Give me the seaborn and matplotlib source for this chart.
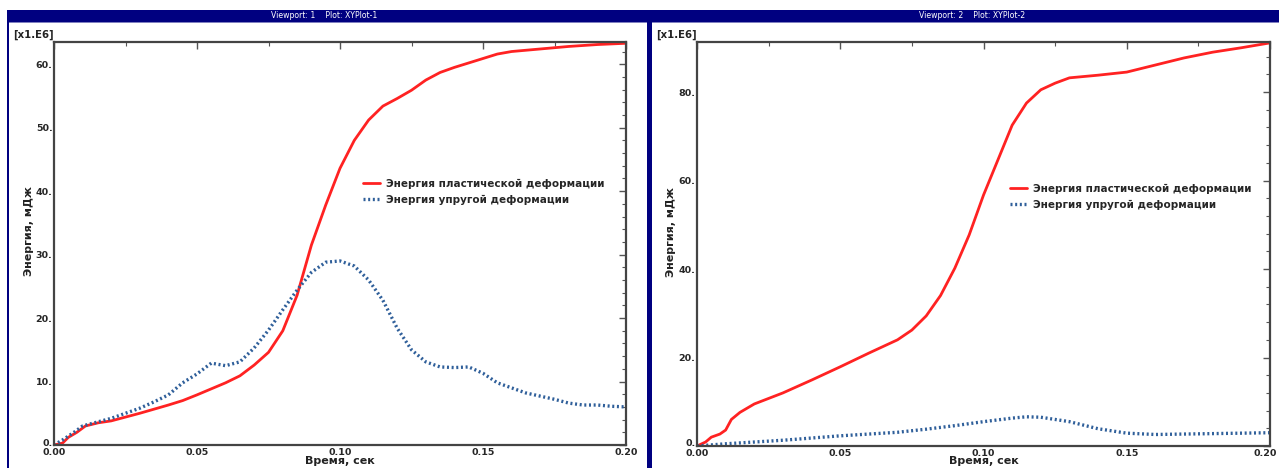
import numpy as np
import pandas as pd
import matplotlib
matplotlib.use("Agg")
import matplotlib.pyplot as plt
import seaborn as sns
from matplotlib.ticker import FuncFormatter, MultipleLocator, AutoMinorLocator
from matplotlib.patches import Rectangle
from matplotlib.transforms import ScaledTranslation

sns.set_theme(style="white")
plt.rcParams['font.family'] = ['DejaVu Sans']

# ---- data (left: Viewport 1) ----
t1_pl = [0, 0.003, 0.005, 0.008, 0.011, 0.0155, 0.02, 0.03, 0.04, 0.045, 0.05, 0.06, 0.065, 0.07, 0.075,
         0.08, 0.085, 0.09, 0.095, 0.10, 0.105, 0.11, 0.115, 0.12, 0.125, 0.13, 0.135, 0.14, 0.145,
         0.15, 0.155, 0.16, 0.17, 0.18, 0.19, 0.20]
e1_pl = [0, 0.3, 1.2, 2.0, 3.0, 3.5, 3.8, 5.0, 6.3, 7.0, 7.9, 9.8, 10.9, 12.6, 14.6,
         18.0, 23.6, 31.5, 37.8, 43.6, 48.0, 51.2, 53.4, 54.6, 55.9, 57.5, 58.7, 59.5, 60.2,
         60.9, 61.6, 62.0, 62.4, 62.8, 63.1, 63.3]
t1_el = [0, 0.003, 0.007, 0.01, 0.015, 0.02, 0.025, 0.03, 0.035, 0.04, 0.045, 0.05, 0.055, 0.06,
         0.065, 0.07, 0.075, 0.08, 0.085, 0.09, 0.095, 0.10, 0.105, 0.11, 0.115, 0.12, 0.125, 0.13,
         0.135, 0.14, 0.145, 0.15, 0.155, 0.16, 0.165, 0.17, 0.175, 0.18, 0.185, 0.19, 0.195, 0.20]
e1_el = [0, 0.8, 2.0, 3.0, 3.6, 4.2, 5.0, 5.8, 6.8, 7.9, 9.8, 11.2, 12.9, 12.5,
         13.1, 15.3, 18.1, 21.3, 24.4, 27.2, 28.8, 29.0, 28.2, 26.0, 22.8, 18.4, 15.0, 13.1,
         12.3, 12.2, 12.3, 11.3, 9.8, 9.0, 8.2, 7.7, 7.2, 6.6, 6.3, 6.3, 6.1, 6.0]

# ---- data (right: Viewport 2) ----
t2_pl = [0, 0.003, 0.005, 0.008, 0.01, 0.012, 0.015, 0.02, 0.03, 0.04, 0.05, 0.06, 0.07, 0.075,
         0.08, 0.085, 0.09, 0.095, 0.10, 0.105, 0.11, 0.115, 0.12, 0.125, 0.13, 0.14, 0.15,
         0.16, 0.17, 0.18, 0.19, 0.20]
e2_pl = [0, 0.9, 2.0, 2.7, 3.6, 6.0, 7.6, 9.5, 12.0, 14.9, 17.9, 21.0, 24.0, 26.2,
         29.4, 34.0, 40.2, 47.7, 56.7, 64.6, 72.5, 77.5, 80.5, 82.0, 83.2, 83.8, 84.5,
         86.1, 87.7, 89.0, 90.0, 91.1]
t2_el = [0, 0.01, 0.02, 0.03, 0.04, 0.05, 0.06, 0.07, 0.08, 0.09, 0.10, 0.11, 0.115, 0.12,
         0.13, 0.14, 0.15, 0.16, 0.17, 0.18, 0.19, 0.20]
e2_el = [0, 0.5, 0.9, 1.3, 1.8, 2.3, 2.7, 3.1, 3.8, 4.6, 5.5, 6.3, 6.6, 6.5,
         5.5, 3.9, 2.9, 2.6, 2.7, 2.8, 2.9, 3.0]

lbl_pl = "Энергия пластической деформации"
lbl_el = "Энергия упругой деформации"
xlabel = "Время, сек"
ylabel = "Энергия, мДж"
titles = ["Viewport: 1    Plot: XYPlot-1", "Viewport: 2    Plot: XYPlot-2"]

W, H = 1279, 468
fig = plt.figure(figsize=(W / 100, H / 100), dpi=100)
NAVY = "#000080"
RED = "#ff2222"
BLUE = "#2f5f9a"

def fx(px):
    return px / W

def fy(py):
    return 1 - py / H

# frame decorations
fig.add_artist(Rectangle((fx(7), fy(22)), fx(1279 - 7), 12 / H, transform=fig.transFigure,
                         facecolor=NAVY, edgecolor="none"))
fig.add_artist(Rectangle((fx(7), fy(23)), fx(1279 - 7), 1 / H, transform=fig.transFigure,
                         facecolor="#8080c0", edgecolor="none"))
fig.add_artist(Rectangle((fx(7), 0), fx(2), fy(22), transform=fig.transFigure,
                         facecolor=NAVY, edgecolor="none"))
fig.add_artist(Rectangle((fx(647), 0), fx(5), fy(22), transform=fig.transFigure,
                         facecolor=NAVY, edgecolor="none"))
fig.text(fx(324), fy(16), titles[0], color="white", fontsize=5.6, ha="center", va="center")
fig.text(fx(972), fy(16), titles[1], color="white", fontsize=5.6, ha="center", va="center")

panels = [
    dict(box=(54, 42, 626, 445), t_pl=t1_pl, e_pl=e1_pl, t_el=t1_el, e_el=e1_el, ymax=63.5,
         major=10, minor=5, leg=(363, 179), ylx=29, e6=(13, 35)),
    dict(box=(697, 42, 1270, 446), t_pl=t2_pl, e_pl=e2_pl, t_el=t2_el, e_el=e2_el, ymax=91.3,
         major=20, minor=5, leg=(1010, 184), ylx=671, e6=(656, 35)),
]

axes = []
for p in panels:
    x0, y0, x1, y1 = p["box"]
    ax = fig.add_axes([fx(x0), fy(y1), fx(x1 - x0), (y1 - y0) / H])
    axes.append(ax)
    df_pl = pd.DataFrame({"t": p["t_pl"], "e": p["e_pl"]})
    df_el = pd.DataFrame({"t": p["t_el"], "e": p["e_el"]})
    sns.lineplot(data=df_pl, x="t", y="e", ax=ax, color=RED, lw=2.0, label=lbl_pl)
    sns.lineplot(data=df_el, x="t", y="e", ax=ax, color=BLUE, lw=2.4, label=lbl_el,
                 linestyle=(0, (0.6, 0.8)))
    ax.set_xlim(0, 0.2)
    ax.set_ylim(0, p["ymax"])
    ax.xaxis.set_major_locator(MultipleLocator(0.05))
    ax.xaxis.set_minor_locator(AutoMinorLocator(2))
    ax.yaxis.set_major_locator(MultipleLocator(p["major"]))
    ax.yaxis.set_minor_locator(AutoMinorLocator(p["minor"]))
    ax.xaxis.set_major_formatter(FuncFormatter(lambda v, _: f"{v:.2f}"))
    ax.yaxis.set_major_formatter(FuncFormatter(lambda v, _: f"{v:.0f}."))
    ax.tick_params(axis="both", which="both", direction="in", top=True, right=True,
                   color="#555555", labelsize=6.8)
    ax.tick_params(axis="both", which="major", length=5, width=1)
    ax.tick_params(axis="both", which="minor", length=3, width=0.8)
    ax.tick_params(axis="x", pad=2.5)
    ax.tick_params(axis="y", pad=1)
    for lab in ax.get_xticklabels() + ax.get_yticklabels():
        lab.set_fontweight("bold")
    for s in ax.spines.values():
        s.set_color("#444444")
        s.set_linewidth(1.6)
    ax.set_xlabel("")
    ax.set_ylabel("")
    fig.text(fx((x0 + x1) / 2), fy(461), xlabel, fontsize=8, fontweight="bold",
             ha="center", va="center", color="#222222")
    fig.text(fx(p["ylx"]), fy((y0 + y1) / 2 - 12), ylabel, fontsize=8, fontweight="bold",
             ha="center", va="center", rotation=90, color="#222222")
    fig.text(fx(p["e6"][0]), fy(p["e6"][1]), "[x1.E6]", fontsize=7.3, fontweight="bold",
             ha="left", va="center", color="#222222")
    lx, ly = p["leg"]
    ax.legend(loc="upper left", bbox_to_anchor=(fx(lx), fy(ly)),
              bbox_transform=fig.transFigure, frameon=False, handlelength=1.6,
              handletextpad=0.6, labelspacing=0.55, borderpad=0, borderaxespad=0,
              prop={"size": 7.5, "weight": "bold"})

# small nudges of individual tick labels (after ticks exist)
fig.canvas.draw()
for i, ax in enumerate(axes):
    for tk in ax.yaxis.get_major_ticks():
        if abs(tk.get_loc()) < 1e-9:
            lab = tk.label1
            lab.set_transform(lab.get_transform() + ScaledTranslation(0, 3 / 100, fig.dpi_scale_trans))
    if i == 1:
        for tk in ax.xaxis.get_major_ticks():
            if abs(tk.get_loc() - 0.2) < 1e-9:
                lab = tk.label1
                lab.set_transform(lab.get_transform() + ScaledTranslation(-5 / 100, 0, fig.dpi_scale_trans))

fig.savefig("out.png", dpi=100, facecolor="white")
